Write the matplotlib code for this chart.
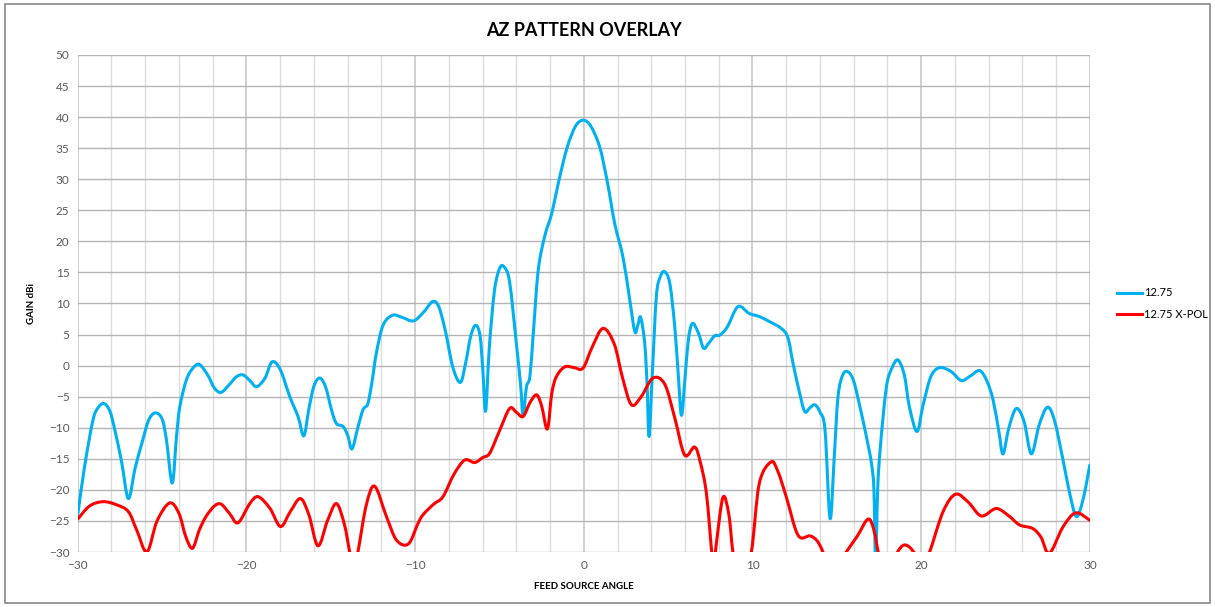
import numpy as np
import matplotlib.pyplot as plt
from matplotlib.patches import Rectangle, PathPatch
from matplotlib.path import Path
from matplotlib.lines import Line2D

# 12.75 co-pol
co_angle = [-30.0, -29.6, -29.1, -28.8, -28.45, -28.1, -27.8, -27.4, -27.0, -26.6, -26.2, -25.8, -25.4,
            -25.0, -24.74, -24.4, -24.15, -23.95, -23.56, -23.2, -22.8, -22.3, -21.9, -21.5, -21.0,
            -20.6, -20.2, -19.8, -19.4, -18.9, -18.48, -18.0, -17.43, -16.94, -16.6, -16.3, -16.0,
            -15.65, -15.3, -14.95, -14.67, -14.27, -14.0, -13.74, -13.4, -13.09, -12.8, -12.55, -12.3,
            -11.9, -11.35, -10.8, -10.1, -9.5, -8.97, -8.6, -8.2, -7.77, -7.32, -7.0, -6.7, -6.41,
            -6.15, -5.98, -5.82, -5.6, -5.3, -5.0, -4.73, -4.4, -4.0, -3.75, -3.6, -3.4, -3.2, -3.0,
            -2.7, -2.3, -1.9, -1.5, -1.0, -0.5, -0.05, 0.4, 0.94, 1.4, 1.83, 2.32, 2.7, 3.02, 3.2,
            3.37, 3.61, 3.75, 3.87, 4.05, 4.3, 4.55, 4.8, 5.1, 5.39, 5.6, 5.79, 6.0, 6.2, 6.44, 6.8,
            7.1, 7.4, 7.76, 8.05, 8.5, 9.14, 9.8, 10.4, 11.0, 11.7, 12.1, 12.4, 12.8, 13.1, 13.4,
            13.7, 14.0, 14.3, 14.6, 14.85, 15.07, 15.35, 15.66, 16.0, 16.4, 16.75, 17.05, 17.2, 17.3,
            17.42, 17.58, 17.94, 18.3, 18.63, 19.0, 19.3, 19.75, 20.1, 20.5, 20.8, 21.2, 21.8, 22.38,
            22.9, 23.47, 23.9, 24.26, 24.6, 24.85, 25.2, 25.64, 26.1, 26.53, 27.0, 27.48, 27.9, 28.41,
            28.8, 29.2, 29.6, 30.0]
co_gain = [-24.0, -16.3, -8.8, -6.8, -6.1, -7.3, -10.4, -15.5, -21.4, -16.5, -12.5, -8.8, -7.6,
           -8.6, -12.0, -18.9, -11.5, -6.6, -2.3, -0.5, 0.2, -1.5, -3.6, -4.3, -3.0,
           -1.8, -1.5, -2.4, -3.4, -2.0, 0.6, -0.6, -5.0, -8.2, -11.3, -7.0, -3.3,
           -2.0, -3.5, -7.2, -9.3, -9.8, -11.2, -13.4, -10.0, -7.1, -6.1, -2.5, 2.0,
           6.5, 8.1, 7.8, 7.2, 8.6, 10.3, 9.5, 5.5, -0.2, -2.7, 0.5, 4.8, 6.5,
           4.8, -1.0, -7.3, 3.0, 12.0, 15.6, 15.9, 13.5, 3.6, -3.0, -8.0, -3.4, -1.8, 5.0,
           15.4, 21.0, 24.5, 29.5, 35.0, 38.5, 39.5, 38.6, 35.2, 29.5, 22.9, 17.5, 11.0, 5.5, 6.5,
           7.8, 3.6, -3.0, -11.4, -2.0, 11.1, 14.4, 15.1, 13.2, 6.3, -1.5, -8.0, -2.0, 4.2, 6.8, 5.2,
           2.8, 3.6, 4.8, 4.9, 6.2, 9.5, 8.4, 7.9, 7.1, 6.0, 4.5, 0.4, -4.5, -7.4, -6.8,
           -6.3, -7.5, -10.4, -24.6, -14.5, -5.0, -1.5, -1.0, -2.5, -7.0, -11.4, -15.7, -20.0, -32.0,
           -20.0, -13.1, -3.4, -0.2, 0.9, -1.5, -6.6, -10.6, -6.5, -2.3, -0.8, -0.3, -1.0, -2.4,
           -1.7, -0.8, -2.5, -5.5, -10.5, -14.2, -10.0, -6.9, -9.0, -14.2, -9.5, -6.7, -8.8, -15.2,
           -20.5, -24.3, -21.5, -16.0]

# 12.75 X-POL
xp_angle = [-30.0, -29.3, -28.5, -27.7, -27.0, -26.5, -25.9, -25.3, -24.55, -24.0, -23.6, -23.2,
            -22.8, -22.4, -21.9, -21.5, -21.0, -20.5, -19.8, -19.3, -18.6, -17.98, -17.4, -16.8,
            -16.3, -15.76, -15.2, -14.67, -14.2, -13.88, -13.65, -13.39, -12.9, -12.4, -11.7, -11.1,
            -10.4, -9.83, -9.53, -8.9, -8.35, -7.7, -7.06, -6.47, -6.0, -5.58, -5.0, -4.4, -4.0,
            -3.6, -3.2, -2.8, -2.5, -2.16, -1.9, -1.63, -1.13, -0.6, -0.05, 0.5, 1.14, 1.8, 2.3,
            2.82, 3.4, 4.1, 4.8, 5.4, 5.98, 6.57, 6.9, 7.27, 7.62, 7.75, 7.86, 8.25, 8.6, 8.9, 9.4,
            9.93, 10.4, 11.1, 11.5, 12.0, 12.7, 13.4, 13.8, 14.1, 14.4, 14.9, 15.56, 16.2, 16.85,
            17.2, 17.55, 18.1, 18.6, 18.96, 19.3, 19.7, 20.1, 20.5, 21.3, 22.04, 22.8, 23.57, 24.45,
            25.2, 25.84, 26.6, 27.1, 27.6, 28.4, 29.16, 30.0]
xp_gain = [-24.7, -22.6, -21.9, -22.4, -23.5, -26.5, -30.0, -25.0, -22.1, -23.8, -27.5, -29.4,
           -26.5, -24.3, -22.6, -22.3, -23.8, -25.3, -22.2, -21.1, -23.0, -25.9, -23.5, -21.4,
           -24.0, -29.0, -25.0, -22.2, -25.5, -30.0, -33.0, -30.0, -22.5, -19.4, -24.3, -28.1,
           -28.7, -25.4, -24.0, -22.3, -21.1, -17.5, -15.2, -15.6, -14.8, -14.1, -10.5, -6.9, -7.5,
           -8.2, -6.0, -4.7, -6.5, -10.2, -4.5, -1.8, -0.2, -0.3, -0.4, 3.0, 6.0, 3.5, -2.0,
           -6.3, -5.0, -2.0, -3.0, -8.5, -14.4, -13.1, -15.5, -20.6, -31.0, -31.5, -28.6, -21.2, -24.0, -31.0, -33.0,
           -30.0, -19.0, -15.5, -17.0, -21.1, -27.3, -27.4, -28.1, -29.5, -31.5, -33.0, -30.0, -27.5, -24.7,
           -26.5, -31.0, -33.0, -30.0, -28.9, -29.2, -30.5, -32.0, -30.0, -23.5, -20.7, -22.0, -24.2, -23.0,
           -24.2, -25.65, -26.2, -27.6, -30.2, -26.0, -23.7, -24.9]


def smooth_path(xs, ys):
    # Excel-style smoothed line: cubic Bezier segments through the points
    p = np.column_stack([xs, ys]).astype(float)
    n = len(p)
    verts = [p[0]]
    codes = [Path.MOVETO]
    for i in range(n - 1):
        p0 = p[max(i - 1, 0)]
        p1, p2 = p[i], p[i + 1]
        p3 = p[min(i + 2, n - 1)]
        c1 = p1 + (p2 - p0) / 6.0
        c2 = p2 - (p3 - p1) / 6.0
        verts += [c1, c2, p2]
        codes += [Path.CURVE4] * 3
    return Path(verts, codes)


fig = plt.figure(figsize=(12.15, 6.07), dpi=100)
plt.rcParams['font.family'] = ['Lato', 'DejaVu Sans']
ax = fig.add_axes([0.064, 0.0906, 0.833, 0.8188])

blue, red = '#00B0F0', '#FF0000'
for xs, ys, col in [(co_angle, co_gain, blue), (xp_angle, xp_gain, red)]:
    ax.add_patch(PathPatch(smooth_path(xs, ys), fill=False, edgecolor=col, lw=2.2,
                           joinstyle='round', capstyle='round', zorder=3))

ax.set_xlim(-30, 30)
ax.set_ylim(-30, 50)
ax.set_xticks(np.arange(-30, 31, 10))
ax.set_xticks(np.arange(-30, 31, 2), minor=True)
ax.set_yticks(np.arange(-30, 51, 5))
ax.grid(axis='x', which='minor', color='#DCDCDC', lw=1.0)
ax.grid(axis='x', which='major', color='#C8C8C8', lw=1.2)
ax.grid(axis='y', which='major', color='#B4B4B4', lw=1.0)
ax.set_axisbelow(True)
for s in ax.spines.values():
    s.set_visible(False)
ax.tick_params(which='both', length=0, labelsize=8.5, colors='#595959', pad=6)

ax.set_title('AZ PATTERN OVERLAY', fontsize=13, fontweight='bold', pad=14)
ax.set_xlabel('FEED SOURCE ANGLE', fontsize=7, fontweight='bold', labelpad=8)
ax.set_ylabel('GAIN dBi', fontsize=7, fontweight='bold', labelpad=9)

handles = [Line2D([], [], color=blue, lw=2.2), Line2D([], [], color=red, lw=2.2)]
ax.legend(handles, ['12.75', '12.75 X-POL'], loc='center left', bbox_to_anchor=(1.017, 0.5),
          frameon=False, fontsize=8, handlelength=2.2, handletextpad=0.2, labelspacing=0.9)

fig.patches.append(Rectangle((0.004, 0.006), 0.992, 0.988, transform=fig.transFigure,
                             fill=False, edgecolor='#888888', lw=1.2))

fig.savefig('out.png', dpi=100)
